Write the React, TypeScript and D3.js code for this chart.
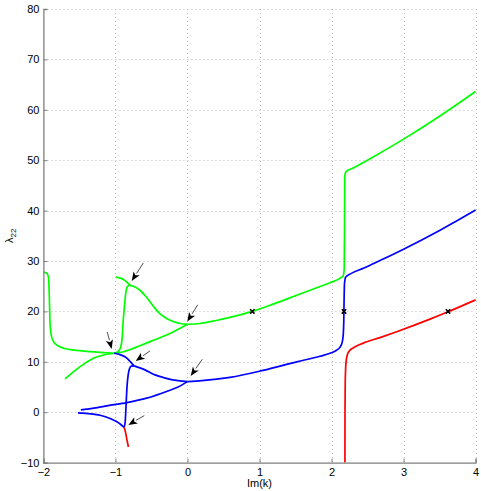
import { useEffect, useRef } from "react";
import * as d3 from "d3";

type Pt = [number, number];

// curves, [Im(k), lambda_22]
const greenLeft: Pt[] = [
  [-2, 27.8], [-1.955, 27.6], [-1.93, 26.8], [-1.918, 23], [-1.91, 18.5], [-1.895, 15.6],
  [-1.86, 14.0], [-1.8, 13.2], [-1.72, 12.7], [-1.585, 12.35], [-1.35, 12.0], [-1.12, 11.8], [-1.02, 11.7],
];
const greenRise: Pt[] = [
  [-1.02, 11.7], [-0.965, 12.0], [-0.925, 13.0], [-0.905, 15], [-0.893, 18], [-0.875, 21],
  [-0.858, 23.5], [-0.835, 24.9], [-0.8, 25.25],
];
const greenUpper: Pt[] = [
  [-0.992, 26.8], [-0.93, 26.6], [-0.867, 26.1], [-0.8, 25.25], [-0.72, 24.8], [-0.66, 24.2],
  [-0.58, 23.0], [-0.52, 21.9], [-0.45, 20.6], [-0.38, 19.5], [-0.29, 18.6], [-0.2, 18.0],
  [-0.1, 17.6], [0, 17.45],
];
const greenLow: Pt[] = [
  [-1.7, 6.6], [-1.6, 7.8], [-1.49, 9.05], [-1.4, 9.9], [-1.307, 10.7], [-1.2, 11.2],
  [-1.12, 11.5], [-1.02, 11.7], [-0.9, 11.95], [-0.8, 12.4], [-0.66, 13.2], [-0.5, 14.1],
  [-0.29, 15.3], [-0.15, 16.3], [0, 17.45],
];
const greenRight: Pt[] = [
  [0, 17.45], [0.17, 17.6], [0.4, 18.2], [0.59, 18.8], [0.9, 20.0], [1.2, 21.5], [1.517, 23.2],
  [1.84, 24.95], [1.98, 25.7], [2.12, 26.6], [2.163, 27.1], [2.176, 28.5], [2.18, 35],
  [2.183, 46.8], [2.2, 47.7], [2.3, 48.45], [2.53, 50.26], [3.0, 54.18], [3.5, 58.72], [4.0, 63.63],
];

const blueFromJoin: Pt[] = [
  [-1.02, 11.7], [-0.95, 11.5], [-0.867, 11.0], [-0.81, 10.3], [-0.774, 9.7], [-0.74, 9.2],
];
const blueDown: Pt[] = [
  [-0.74, 9.2], [-0.66, 8.8], [-0.59, 8.4], [-0.45, 7.4], [-0.35, 6.95], [-0.266, 6.6],
  [-0.13, 6.25], [0, 6.07],
];
const blueRise: Pt[] = [
  [-0.88, -3.0], [-0.865, -2.0], [-0.857, 0], [-0.847, 3], [-0.837, 5.5], [-0.823, 7.4],
  [-0.805, 8.6], [-0.78, 9.15], [-0.74, 9.2],
];
const blueCusp: Pt[] = [
  [-1.52, -0.15], [-1.45, -0.2], [-1.307, -0.4], [-1.2, -0.65], [-1.12, -1.0], [-1.05, -1.4],
  [-0.98, -1.9], [-0.93, -2.4], [-0.88, -3.0],
];
const blueLow: Pt[] = [
  [-1.48, 0.45], [-1.4, 0.6], [-1.25, 0.9], [-1.12, 1.25], [-0.84, 1.9], [-0.566, 2.78],
  [-0.29, 4.1], [-0.13, 5.0], [0, 6.07],
];
const blueRight: Pt[] = [
  [0, 6.07], [0.2, 6.25], [0.59, 6.9], [1.05, 8.3], [1.517, 10.0], [1.84, 11.1], [1.98, 11.7],
  [2.07, 12.3], [2.118, 12.9], [2.15, 14.0], [2.163, 15.5], [2.17, 18], [2.174, 22],
  [2.18, 25.5], [2.195, 26.8], [2.256, 27.4], [2.45, 28.6], [2.672, 30.09], [3.0, 32.35],
  [3.5, 36.07], [3.76, 38.13], [4.0, 40.1],
];

const redShort: Pt[] = [[-0.88, -3.0], [-0.86, -4.0], [-0.84, -5.5], [-0.82, -6.9]];
const redRight: Pt[] = [
  [2.186, -10], [2.187, 0], [2.19, 5.75], [2.2, 9.7], [2.219, 11.4], [2.25, 12.2], [2.3, 12.75],
  [2.44, 13.7], [2.672, 14.8], [2.905, 15.97], [3.367, 18.46], [3.617, 19.92], [4.0, 22.29],
];

const markers: Pt[] = [[0.9, 20], [2.173, 20], [3.617, 20]];

// arrows: [tail, head]
const arrows: [Pt, Pt][] = [
  [[-0.613, 29.6], [-0.774, 26.05]],
  [[0.142, 21.3], [-0.002, 18.0]],
  [[-1.113, 15.9], [-1.052, 12.56]],
  [[-0.52, 12.16], [-0.719, 10.18]],
  [[0.206, 10.5], [0.045, 7.2]],
  [[-0.599, -0.67], [-0.821, -2.52]],
];

const xTicks = [-2, -1, 0, 1, 2, 3, 4];
const yTicks = [-10, 0, 10, 20, 30, 40, 50, 60, 70, 80];

const series: { pts: Pt[]; color: string }[] = [
  { pts: greenLeft, color: "#00ff00" },
  { pts: greenRise, color: "#00ff00" },
  { pts: greenUpper, color: "#00ff00" },
  { pts: greenLow, color: "#00ff00" },
  { pts: greenRight, color: "#00ff00" },
  { pts: blueFromJoin, color: "#0000ff" },
  { pts: blueDown, color: "#0000ff" },
  { pts: blueRise, color: "#0000ff" },
  { pts: blueCusp, color: "#0000ff" },
  { pts: blueLow, color: "#0000ff" },
  { pts: blueRight, color: "#0000ff" },
  { pts: redShort, color: "#ff0000" },
  { pts: redRight, color: "#ff0000" },
];

const App = () => {
  const svgRef = useRef<SVGSVGElement>(null);
  const width = 481;
  const height = 491;

  useEffect(() => {
    const svg = d3.select(svgRef.current);
    svg.selectAll("*").remove();

    const font = "'Liberation Sans', Arial, sans-serif";
    const x = d3.scaleLinear().domain([-2, 4]).range([43.4, 475.6]);
    const y = d3.scaleLinear().domain([-10, 80]).range([462.6, 9]);

    // grid
    const grid = svg.append("g").attr("stroke", "#bdbdbd").attr("stroke-dasharray", "1,3").attr("stroke-width", 1);
    grid.selectAll("line.gx")
      .data(xTicks.slice(1))
      .enter()
      .append("line")
      .attr("x1", d => Math.round(x(d)) + 0.5)
      .attr("x2", d => Math.round(x(d)) + 0.5)
      .attr("y1", y(80))
      .attr("y2", y(-10));
    grid.selectAll("line.gy")
      .data(yTicks.slice(1))
      .enter()
      .append("line")
      .attr("x1", x(-2))
      .attr("x2", x(4))
      .attr("y1", d => Math.round(y(d)) + 0.5)
      .attr("y2", d => Math.round(y(d)) + 0.5);

    // curves
    const line = d3.line<Pt>()
      .x(d => x(d[0]))
      .y(d => y(d[1]))
      .curve(d3.curveMonotoneX);

    svg.append("g")
      .selectAll("path")
      .data(series)
      .enter()
      .append("path")
      .attr("d", d => line(d.pts))
      .attr("fill", "none")
      .attr("stroke", d => d.color)
      .attr("stroke-width", 1.7)
      .attr("stroke-linejoin", "round");

    // markers
    svg.append("g")
      .selectAll("path")
      .data(markers)
      .enter()
      .append("path")
      .attr("d", d => {
        const cx = x(d[0]), cy = y(d[1]), r = 2.2;
        return `M${cx - r},${cy - r}L${cx + r},${cy + r}M${cx - r},${cy + r}L${cx + r},${cy - r}`;
      })
      .attr("stroke", "#000")
      .attr("stroke-width", 1.6);

    // arrows
    const ag = svg.append("g");
    arrows.forEach(([t, h]) => {
      const x0 = x(t[0]), y0 = y(t[1]), x1 = x(h[0]), y1 = y(h[1]);
      const ang = Math.atan2(y1 - y0, x1 - x0);
      const hl = 9, hw = 3.6;
      const bx = x1 - hl * Math.cos(ang), by = y1 - hl * Math.sin(ang);
      const px = -Math.sin(ang) * hw, py = Math.cos(ang) * hw;
      ag.append("line")
        .attr("x1", x0).attr("y1", y0)
        .attr("x2", bx).attr("y2", by)
        .attr("stroke", "#000")
        .attr("stroke-width", 0.7);
      ag.append("path")
        .attr("d", `M${x1},${y1}L${bx + px},${by + py}L${bx + hl * 0.25 * Math.cos(ang)},${by + hl * 0.25 * Math.sin(ang)}L${bx - px},${by - py}Z`)
        .attr("fill", "#000");
    });

    // axes
    const fmt = (d: d3.NumberValue) => d3.format("")(d as number).replace("-", "\u2212");
    const xAxis = svg.append("g")
      .attr("transform", `translate(0,${y(-10)})`)
      .call(d3.axisBottom(x).tickValues(xTicks).tickSize(-4).tickPadding(6).tickFormat(fmt));
    const yAxis = svg.append("g")
      .attr("transform", `translate(${x(-2)},0)`)
      .call(d3.axisLeft(y).tickValues(yTicks).tickSize(-4).tickPadding(4).tickFormat(fmt));

    [xAxis, yAxis].forEach(a => {
      a.select(".domain").attr("stroke", "#808080").attr("stroke-width", 1.3);
      a.selectAll(".tick line").attr("stroke", "#808080");
      a.selectAll("text").attr("fill", "#000").style("font-family", font).style("font-size", "11px");
    });

    svg.append("text")
      .attr("x", (x(-2) + x(4)) / 2)
      .attr("y", 487)
      .attr("text-anchor", "middle")
      .style("font-family", font)
      .style("font-size", "11px")
      .text("Im(k)");

    const yl = svg.append("text")
      .attr("transform", `translate(13,${(y(80) + y(-10)) / 2}) rotate(-90)`)
      .attr("text-anchor", "middle")
      .style("font-family", font)
      .style("font-size", "11px");
    yl.append("tspan").text("\u03bb");
    yl.append("tspan").attr("dy", 3).style("font-size", "8px").text("22");
  }, []);

  return (
    <div style={{ position: "absolute", left: 0, top: 0 }}>
      <svg ref={svgRef} width={width} height={height} style={{ display: "block", background: "#fff" }} />
    </div>
  );
};

export default App;
